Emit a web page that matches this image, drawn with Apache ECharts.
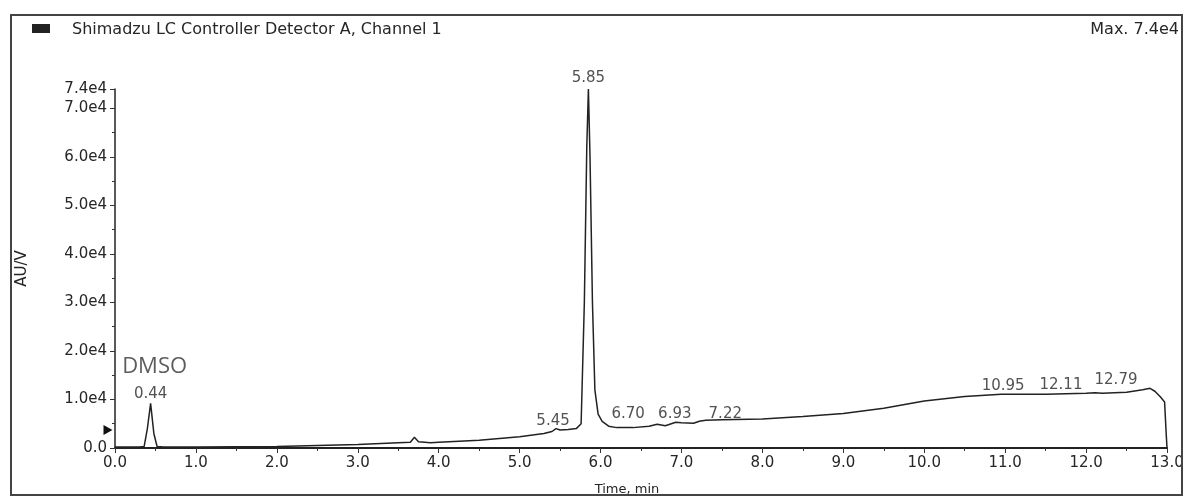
<!DOCTYPE html>
<html>
<head>
<meta charset="utf-8">
<script src="https://cdn.jsdelivr.net/npm/echarts@6/dist/echarts.min.js"></script>
<style>html,body{margin:0;padding:0;background:#fff}#c{width:1188px;height:497px}</style>
</head>
<body>
<div id="c"></div>
<script>
// Chromatogram trace
const times = [0, 0.3, 0.36, 0.40, 0.44, 0.48, 0.52, 0.6, 1.0, 1.5, 2.0, 2.5, 3.0, 3.5, 3.65, 3.7, 3.75, 3.9, 4.0, 4.5, 5.0, 5.3, 5.4, 5.45, 5.5, 5.6, 5.7, 5.76, 5.80, 5.83, 5.85, 5.87, 5.90, 5.93, 5.97, 6.02, 6.1, 6.2, 6.4, 6.6, 6.7, 6.8, 6.93, 7.0, 7.15, 7.22, 7.3, 7.5, 8.0, 8.5, 9.0, 9.5, 10.0, 10.5, 10.95, 11.5, 12.0, 12.11, 12.2, 12.5, 12.7, 12.79, 12.85, 12.92, 12.97, 12.99, 13.0];
const signal = [200, 200, 300, 4000, 9200, 3000, 300, 200, 200, 250, 300, 500, 700, 1100, 1200, 2200, 1300, 1100, 1200, 1600, 2300, 3000, 3400, 4000, 3700, 3800, 4000, 5000, 30000, 62000, 74000, 60000, 30000, 12000, 7000, 5500, 4500, 4200, 4200, 4500, 4900, 4600, 5300, 5200, 5100, 5500, 5700, 5800, 6000, 6500, 7100, 8200, 9700, 10600, 11100, 11100, 11300, 11400, 11300, 11500, 12000, 12300, 11700, 10500, 9500, 3000, 0];
// Peak annotations
const peakTimes = [0.44, 5.45, 5.85, 6.70, 6.93, 7.22, 10.95, 12.11, 12.79];
const peakHeights = [9200, 4000, 74000, 4900, 5300, 5500, 11100, 11400, 12300];
const xTicks = [0, 1, 2, 3, 4, 5, 6, 7, 8, 9, 10, 11, 12, 13];
const yTicks = [0, 10000, 20000, 30000, 40000, 50000, 60000, 70000, 74000];

const labelOffsets = [[0, 2], [-3, 3], [0, 0], [-29, 0], [-1, 2], [26, 3], [2, 2], [-34, 3], [-34, 2]];

const chart = echarts.init(document.getElementById('c'));
const font = 'DejaVu Sans, Verdana, sans-serif';
const ink = '#262626';
const peakData = peakTimes.map((t, i) => {
  const item = { value: [t, peakHeights[i]], label: { offset: labelOffsets[i] } };
  if (i === 0) {
    item.label.formatter = '{d|DMSO}\n{n|0.44}';
  }
  return item;
});

chart.setOption({
  animation: false,
  backgroundColor: '#fff',
  grid: { left: 115, right: 21, top: 89, bottom: 49, containLabel: false, outerBoundsMode: 'none' },
  xAxis: {
    type: 'value', min: 0, max: 13, interval: 1,
    name: 'Time, min', nameLocation: 'middle', nameGap: 35,
    nameTextStyle: { fontFamily: font, fontSize: 13, color: ink, padding: [0, 28, 0, 0] },
    axisLine: { show: true, onZero: false, lineStyle: { color: '#222', width: 2 } },
    axisTick: { show: true, length: 5, lineStyle: { color: '#333' } },
    minorTick: { show: true, splitNumber: 2, length: 3, lineStyle: { color: '#333' } },
    splitLine: { show: false },
    axisLabel: { fontFamily: font, fontSize: 15, color: ink, margin: 8,
      formatter: v => xTicks.includes(v) ? v.toFixed(1) : '' }
  },
  yAxis: {
    type: 'value', min: 0, max: 74000, interval: 10000,
    name: 'AU/V', nameLocation: 'middle', nameGap: 85, nameRotate: 90,
    nameTextStyle: { fontFamily: font, fontSize: 15, color: ink },
    axisLine: { show: true, lineStyle: { color: '#222', width: 1.5 } },
    axisTick: { show: true, length: 5, lineStyle: { color: '#333' } },
    minorTick: { show: true, splitNumber: 2, length: 3, lineStyle: { color: '#333' } },
    splitLine: { show: false },
    axisLabel: { fontFamily: font, fontSize: 15, color: ink, margin: 8,
      formatter: v => yTicks.includes(v) ? (v === 0 ? '0.0' : (v / 10000).toFixed(1) + 'e4') : '' }
  },
  series: [
    {
      type: 'line', data: times.map((t, i) => [t, signal[i]]),
      showSymbol: false, symbol: 'none',
      lineStyle: { color: '#222', width: 1.5 },
      markPoint: {
        silent: true,
        data: [{ coord: [0, 3700], symbol: 'triangle', symbolRotate: -90, symbolSize: [10, 9], symbolOffset: [-7, 0],
          itemStyle: { color: '#111' }, label: { show: false } }]
      },
      z: 3
    },
    {
      type: 'scatter', data: peakData, symbolSize: 0, silent: true,
      label: {
        show: true, position: 'top', distance: 3,
        fontFamily: font, fontSize: 15, color: ink,
        formatter: p => p.value[0].toFixed(2),
        rich: {
          d: { fontFamily: 'Open Sans, Noto Sans, sans-serif', fontSize: 22, color: '#333', lineHeight: 30, padding: [0, 0, 8, 8] },
          n: { fontFamily: font, fontSize: 15, color: ink, lineHeight: 17 }
        }
      },
      z: 4
    }
  ],
  graphic: [
    { type: 'rect', shape: { x: 11, y: 15, width: 1171, height: 480 }, style: { fill: 'none', stroke: '#444', lineWidth: 2 }, z: 10 },
    { type: 'rect', shape: { x: 32, y: 24, width: 18, height: 9 }, style: { fill: '#222' } },
    { type: 'text', left: 72, top: 22, style: { text: 'Shimadzu LC Controller Detector A, Channel 1', font: '16px ' + font, fill: ink } },
    { type: 'text', right: 9, top: 22, style: { text: 'Max. 7.4e4', font: '16px ' + font, fill: ink } }
  ]
});
</script>
</body>
</html>
